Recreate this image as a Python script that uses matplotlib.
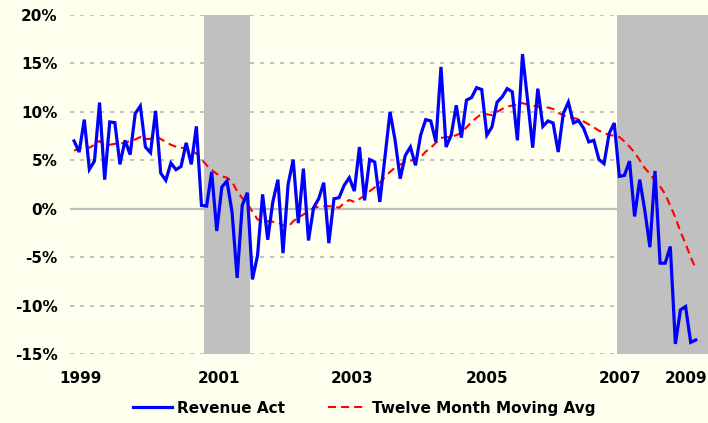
import numpy as np
import matplotlib
matplotlib.use("Agg")
import matplotlib.pyplot as plt

# monthly revenue growth (%), Jan 1999 .. Mar 2009
revenue_act = [
    7.0, 5.85, 9.2, 4.06, 4.92, 10.96, 3.0, 8.96, 8.89, 4.58, 7.06, 5.58,
    9.82, 10.6, 6.37, 5.79, 10.1, 3.68, 2.93, 4.72, 4.03, 4.37, 6.8, 4.58,
    8.5, 0.34, 0.27, 3.79, -2.3, 2.24, 2.86, -0.35, -7.14, 0.34, 1.65, -7.3,
    -4.83, 1.48, -3.2, 0.7, 3.0, -4.59, 2.51, 5.07, -1.49, 4.14, -3.28, 0.1,
    1.03, 2.69, -3.56, 1.03, 1.14, 2.41, 3.2, 1.82, 6.37, 0.86, 5.07, 4.82,
    0.7, 5.3, 10.0, 7.06, 3.1, 5.5, 6.37, 4.48, 7.58, 9.2, 9.06, 6.89,
    14.64, 6.37, 7.58, 10.68, 7.34, 11.2, 11.48, 12.5, 12.3, 7.6, 8.44, 11.0,
    11.54, 12.4, 12.06, 7.06, 15.96, 11.2, 6.3, 12.4, 8.5, 9.06, 8.85, 5.85,
    9.82, 11.0, 8.85, 9.1, 8.3, 6.9, 7.06, 5.07, 4.65, 7.76, 8.85, 3.34,
    3.44, 4.92, -0.8, 3.0, -0.18, -3.97, 3.89, -5.62, -5.62, -3.9, -13.96, -10.44,
    -10.1, -13.8, -13.55,
]

moving_avg = [
    6.0, 6.2, 6.4, 6.3, 6.6, 7.0, 6.5, 6.6, 6.7, 6.75, 6.8, 7.0,
    7.15, 7.4, 7.2, 7.2, 7.55, 7.2, 6.9, 6.6, 6.4, 6.3, 6.25, 6.0,
    5.7, 5.1, 4.5, 4.0, 3.6, 3.35, 3.2, 2.8, 1.8, 1.1, 0.5, -0.3,
    -1.1, -1.25, -1.3, -1.35, -1.4, -1.7, -1.9, -1.3, -0.9, -0.6, -0.3, 0.1,
    0.2, 0.25, 0.25, 0.25, 0.1, 0.6, 0.9, 0.7, 1.0, 1.35, 1.8, 2.2,
    2.7, 3.25, 3.8, 4.25, 4.55, 4.8, 4.95, 5.1, 5.3, 5.9, 6.3, 6.8,
    7.3, 7.4, 7.4, 7.6, 7.8, 8.4, 8.95, 9.4, 9.8, 9.75, 9.65, 10.0,
    10.3, 10.55, 10.65, 10.75, 10.9, 10.75, 10.65, 10.55, 10.5, 10.45, 10.3, 9.9,
    9.65, 9.45, 9.35, 9.25, 9.0, 8.7, 8.4, 8.05, 7.85, 7.6, 7.55, 7.4,
    6.95, 6.4, 5.8, 5.0, 4.2, 3.6, 2.9, 2.3, 1.5, 0.3, -0.9, -2.4,
    -3.6, -5.0, -6.2,
]

year_labels = ["1999", "2001", "2003", "2005", "2007", "2009"]
y_ticks = [-15, -10, -5, 0, 5, 10, 15, 20]
# recessions as month-index spans (Mar-Nov 2001, Dec 2007 onward)
recessions = [(25.5, 34.5), (106.5, 125.0)]

months = np.arange(len(revenue_act))

plt.rcParams['font.family'] = 'DejaVu Sans'
plt.rcParams['font.weight'] = 'bold'
plt.rcParams['lines.scale_dashes'] = False

bg = '#FFFFEE'
fig = plt.figure(figsize=(7.08, 4.23), dpi=100, facecolor=bg)
ax = fig.add_axes([70 / 708, 1 - 354 / 423, 638 / 708, 339 / 423])
ax.set_facecolor(bg)

for v in y_ticks:
    if v == 0:
        ax.axhline(v, color='#BEBEBE', lw=1.6, zorder=1)
    else:
        ax.axhline(v, color='#B8B8B8', lw=1.2, linestyle=(0, (3.0, 4.2)), zorder=1)

for a, b in recessions:
    ax.axvspan(a, b, color='#C0C0C0', lw=0, zorder=2)

ax.plot(months, revenue_act, color='#0000FF', lw=2.3, zorder=4,
        solid_joinstyle='miter', label='Revenue Act')
ax.plot(months, moving_avg, color='#FF0000', lw=1.5, zorder=3,
        linestyle=(0, (5.8, 3.6)), label='Twelve Month Moving Avg')

ax.set_xlim(-0.8, 124.4)
ax.set_ylim(-15, 20)
ax.set_yticks(y_ticks)
ax.set_yticklabels([f"{v}%" for v in y_ticks], fontsize=11, fontweight='bold')
ax.set_xticks([1.2, 28.4, 54.5, 81.0, 107.1, 120.0])
ax.set_xticklabels(year_labels, fontsize=11, fontweight='bold')
ax.tick_params(axis='y', length=0, pad=9)
ax.tick_params(axis='x', length=0, pad=12)
for s in ax.spines.values():
    s.set_visible(False)

fig.legend(loc='center', bbox_to_anchor=(364 / 708, 1 - 408 / 423), ncol=2,
           frameon=False, prop={'size': 11, 'weight': 'bold'},
           handlelength=2.6, handletextpad=0.3, columnspacing=2.8)

fig.savefig('out.png', dpi=100, facecolor=bg)
